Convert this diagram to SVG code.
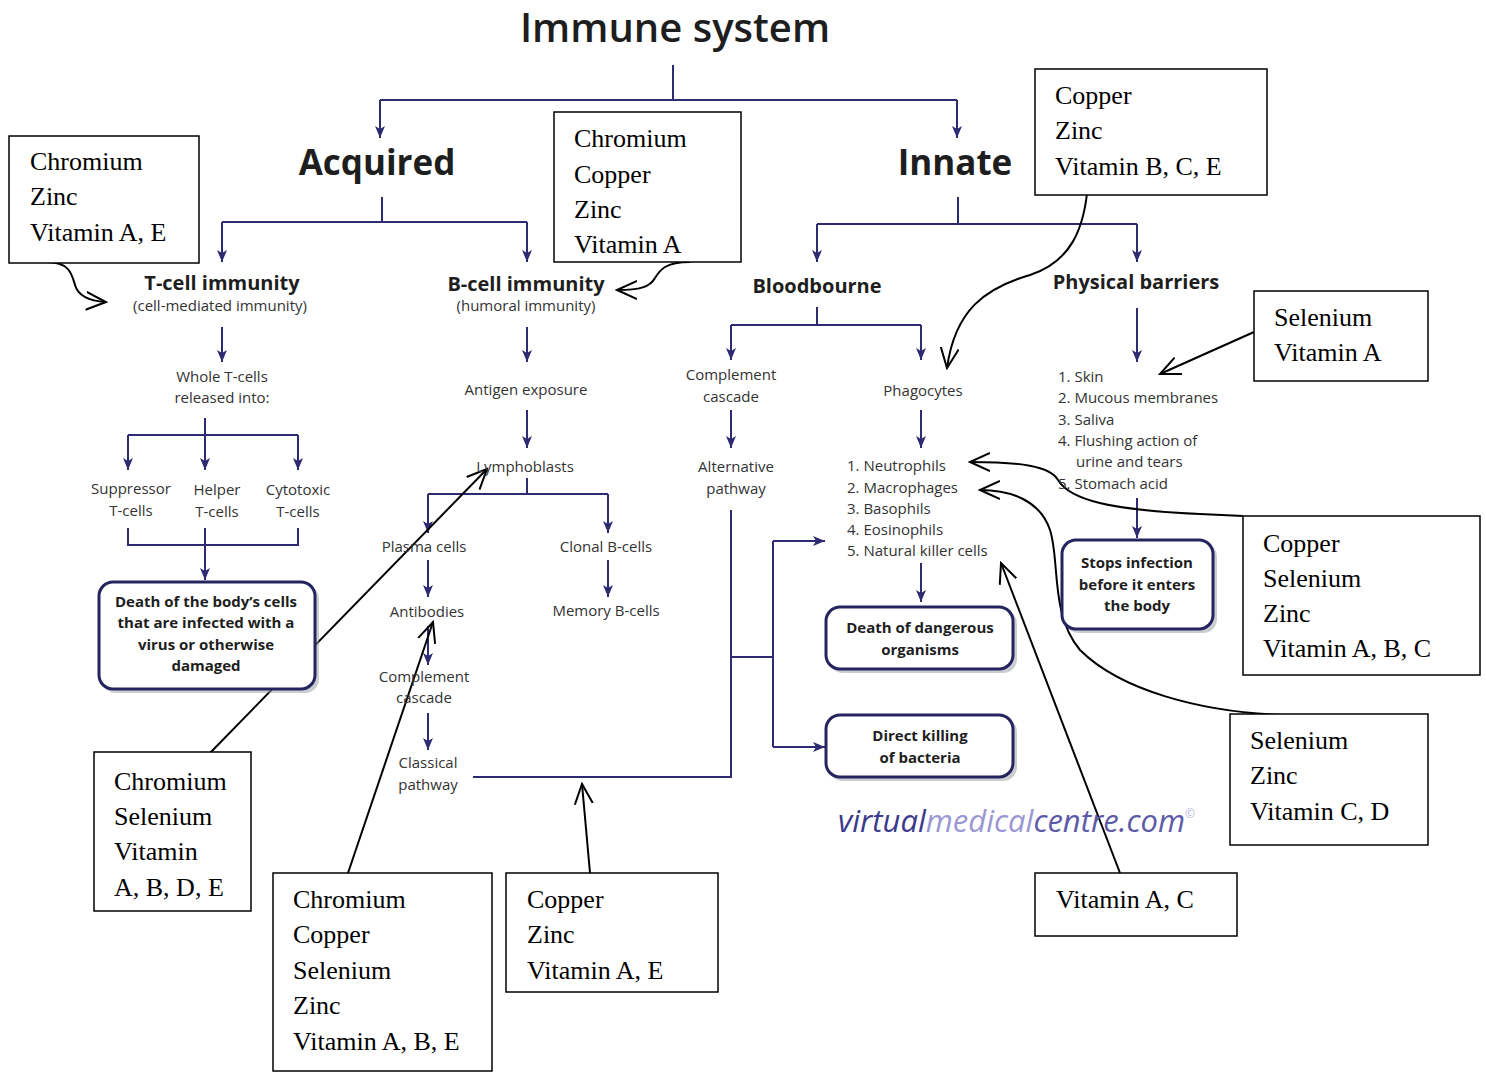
<svg xmlns="http://www.w3.org/2000/svg" width="1486" height="1078" viewBox="0 0 1486 1078">
<style>
.bg{fill:#ffffff}
.t{font-family:"Open Sans","Liberation Sans",sans-serif;fill:#2a2a2a;text-anchor:middle}
.title{font-size:40px;font-weight:600;fill:#1e1e1e}
.h1{font-size:35px;font-weight:700;fill:#1e1e1e}
.h2{font-size:20px;font-weight:700;fill:#1e1e1e}
.s{font-size:15px;fill:#333}
.l{font-size:15px;fill:#333;text-anchor:start}
.b{font-size:15px;font-weight:700;fill:#1e1e1e}
.tree{fill:none;stroke:#2e2b72;stroke-width:2}
.arr{marker-end:url(#tri)}
.rbox{fill:#ffffff;stroke:#26245e;stroke-width:3}
.shadow{fill:#9a9aa8;opacity:0.5}
.cb{fill:#ffffff;stroke:#000000;stroke-width:1.5}
.ct{font-family:"Liberation Serif","Times New Roman",serif;font-size:26px;fill:#000000}
.call{fill:none;stroke:#000000;stroke-width:2;marker-end:url(#open)}
.wm{font-family:"Open Sans","Liberation Sans",sans-serif;font-size:31px;font-style:italic}
</style>
<defs>
<marker id="tri" viewBox="0 0 12 10" refX="12" refY="5" markerWidth="12" markerHeight="10" markerUnits="userSpaceOnUse" orient="auto">
<path d="M0,0 L12,5 L0,10 L3,5 z" fill="#2e2b72"/>
</marker>
<marker id="open" viewBox="0 0 22 20" refX="20" refY="10" markerWidth="22" markerHeight="20" markerUnits="userSpaceOnUse" orient="auto">
<path d="M0,1 L20,10 L0,19" fill="none" stroke="#000" stroke-width="2"/>
</marker>
</defs>
<rect class="bg" x="0" y="0" width="1486" height="1078"/>

<g id="connectors">
<path class="tree" d="M673,65 V100"/>
<path class="tree" d="M380,100 H957"/>
<path class="tree arr" d="M380,100 V138"/>
<path class="tree arr" d="M957,100 V138"/>
<path class="tree" d="M382,197 V222 M222,222 H527"/>
<path class="tree arr" d="M222,222 V262"/>
<path class="tree arr" d="M527,222 V262"/>
<path class="tree" d="M958,197 V224 M817,224 H1137"/>
<path class="tree arr" d="M817,224 V262"/>
<path class="tree arr" d="M1137,224 V262"/>
<path class="tree arr" d="M222,327 V362"/>
<path class="tree" d="M205,418 V435 M128,435 H298"/>
<path class="tree arr" d="M128,435 V470"/>
<path class="tree arr" d="M205,435 V470"/>
<path class="tree arr" d="M298,435 V470"/>
<path class="tree" d="M128,528 V545 H298 V528"/>
<path class="tree arr" d="M205,528 V580"/>
<path class="tree arr" d="M527,327 V362"/>
<path class="tree arr" d="M527,410 V448"/>
<path class="tree" d="M527,478 V494 M428,494 H608"/>
<path class="tree arr" d="M428,494 V533"/>
<path class="tree arr" d="M608,494 V533"/>
<path class="tree arr" d="M428,560 V597"/>
<path class="tree arr" d="M608,560 V597"/>
<path class="tree arr" d="M428,626 V665"/>
<path class="tree arr" d="M428,713 V750"/>
<path class="tree" d="M473,777 H731 V510"/>
<path class="tree" d="M731,657 H773 V541 M773,657 V747"/>
<path class="tree arr" d="M773,541 H825"/>
<path class="tree arr" d="M773,747 H825"/>
<path class="tree" d="M817,307 V325 M731,325 H921"/>
<path class="tree arr" d="M731,325 V360"/>
<path class="tree arr" d="M921,325 V360"/>
<path class="tree arr" d="M731,410 V448"/>
<path class="tree arr" d="M921,410 V448"/>
<path class="tree arr" d="M921,563 V602"/>
<path class="tree arr" d="M1137,308 V362"/>
<path class="tree arr" d="M1137,498 V538"/>

<path class="call" d="M47,262 C70,262 72,275 75,285 C78,296 90,301 106,302"/>
<path class="call" d="M690,262 C665,262 660,270 655,278 C650,287 640,290 617,290"/>
<path class="call" d="M1088,182 C1085,230 1070,262 1030,275 C985,288 955,310 947,368"/>
<path class="call" d="M1254,332 L1160,374"/>
<path class="call" d="M1243,516 L1200,514 C1110,510 1070,500 1058,480 C1050,466 1020,462 970,462"/>
<path class="call" d="M1283,715 C1200,712 1120,690 1080,650 C1050,615 1060,560 1050,530 C1040,500 1010,490 980,490"/>
<path class="call" d="M1120,873 L1001,563"/>
<path class="call" d="M210,753 L487,469"/>
<path class="call" d="M348,873 L433,622"/>
<path class="call" d="M590,873 L582,784"/>
</g>

<g id="n-title"><text class="t title" x="675" y="42">Immune system</text></g>
<g id="n-acquired"><text class="t h1" x="377" y="175">Acquired</text></g>
<g id="n-innate"><text class="t h1" x="955" y="175">Innate</text></g>

<g id="n-tcell"><text class="t h2" x="222" y="290">T-cell immunity</text><text class="t s" x="220" y="311">(cell-mediated immunity)</text></g>
<g id="n-bcell"><text class="t h2" x="526" y="291">B-cell immunity</text><text class="t s" x="526" y="311">(humoral immunity)</text></g>
<g id="n-blood"><text class="t h2" x="817" y="293">Bloodbourne</text></g>
<g id="n-phys"><text class="t h2" x="1136" y="289">Physical barriers</text></g>

<g id="n-whole"><text class="t s" x="222" y="382">Whole T-cells</text><text class="t s" x="222" y="403">released into:</text></g>
<g id="n-supp"><text class="t s" x="131" y="494">Suppressor</text><text class="t s" x="131" y="516">T-cells</text></g>
<g id="n-helper"><text class="t s" x="217" y="495">Helper</text><text class="t s" x="217" y="517">T-cells</text></g>
<g id="n-cyto"><text class="t s" x="298" y="495">Cytotoxic</text><text class="t s" x="298" y="517">T-cells</text></g>
<g id="n-death1">
<rect class="shadow" x="102" y="585" width="217" height="108" rx="14"/>
<rect class="rbox" x="99" y="582" width="216" height="107" rx="14"/>
<text class="t b" x="206" y="607">Death of the body’s cells</text>
<text class="t b" x="206" y="628">that are infected with a</text>
<text class="t b" x="206" y="650">virus or otherwise</text>
<text class="t b" x="206" y="671">damaged</text>
</g>

<g id="n-antigen"><text class="t s" x="526" y="395">Antigen exposure</text></g>
<g id="n-lympho"><text class="t s" x="525" y="472">Lymphoblasts</text></g>
<g id="n-plasma"><text class="t s" x="424" y="552">Plasma cells</text></g>
<g id="n-clonal"><text class="t s" x="606" y="552">Clonal B-cells</text></g>
<g id="n-antibodies"><text class="t s" x="427" y="617">Antibodies</text></g>
<g id="n-memory"><text class="t s" x="606" y="616">Memory B-cells</text></g>
<g id="n-compl1"><text class="t s" x="424" y="682">Complement</text><text class="t s" x="424" y="703">cascade</text></g>
<g id="n-classical"><text class="t s" x="428" y="768">Classical</text><text class="t s" x="428" y="790">pathway</text></g>

<g id="n-compl2"><text class="t s" x="731" y="380">Complement</text><text class="t s" x="731" y="402">cascade</text></g>
<g id="n-alt"><text class="t s" x="736" y="472">Alternative</text><text class="t s" x="736" y="494">pathway</text></g>
<g id="n-phago"><text class="t s" x="923" y="396">Phagocytes</text></g>
<g id="n-list">
<text class="t l" x="847" y="471">1. Neutrophils</text>
<text class="t l" x="847" y="493">2. Macrophages</text>
<text class="t l" x="847" y="514">3. Basophils</text>
<text class="t l" x="847" y="535">4. Eosinophils</text>
<text class="t l" x="847" y="556">5. Natural killer cells</text>
</g>
<g id="n-death2">
<rect class="shadow" x="829" y="610" width="188" height="63" rx="14"/>
<rect class="rbox" x="826" y="607" width="187" height="62" rx="14"/>
<text class="t b" x="920" y="633">Death of dangerous</text>
<text class="t b" x="920" y="655">organisms</text>
</g>
<g id="n-direct">
<rect class="shadow" x="829" y="718" width="188" height="63" rx="14"/>
<rect class="rbox" x="826" y="715" width="187" height="62" rx="14"/>
<text class="t b" x="920" y="741">Direct killing</text>
<text class="t b" x="920" y="763">of bacteria</text>
</g>

<g id="n-barriers">
<text class="t l" x="1058" y="382">1. Skin</text>
<text class="t l" x="1058" y="403">2. Mucous membranes</text>
<text class="t l" x="1058" y="425">3. Saliva</text>
<text class="t l" x="1058" y="446">4. Flushing action of</text>
<text class="t l" x="1076" y="467">urine and tears</text>
<text class="t l" x="1058" y="489">5. Stomach acid</text>
</g>
<g id="n-stops">
<rect class="shadow" x="1065" y="543" width="152" height="90" rx="14"/>
<rect class="rbox" x="1062" y="540" width="151" height="89" rx="14"/>
<text class="t b" x="1137" y="568">Stops infection</text>
<text class="t b" x="1137" y="590">before it enters</text>
<text class="t b" x="1137" y="611">the body</text>
</g>

<g id="n-watermark">
<text class="wm" x="838" y="832"><tspan fill="#3b3a8c">virtual</tspan><tspan fill="#9b97d4">medical</tspan><tspan fill="#5d5aa8">centre.com</tspan><tspan fill="#b8b6dc" font-size="12" dy="-14">©</tspan></text>
</g>

<g id="c1"><rect class="cb" x="9" y="136" width="190" height="127"/>
<text class="ct" x="30" y="170">Chromium</text><text class="ct" x="30" y="205">Zinc</text><text class="ct" x="30" y="241">Vitamin A, E</text></g>
<g id="c2"><rect class="cb" x="554" y="112" width="187" height="150"/>
<text class="ct" x="574" y="147">Chromium</text><text class="ct" x="574" y="183">Copper</text><text class="ct" x="574" y="218">Zinc</text><text class="ct" x="574" y="253">Vitamin A</text></g>
<g id="c3"><rect class="cb" x="1035" y="69" width="232" height="126"/>
<text class="ct" x="1055" y="104">Copper</text><text class="ct" x="1055" y="139">Zinc</text><text class="ct" x="1055" y="175">Vitamin B, C, E</text></g>
<g id="c4"><rect class="cb" x="1254" y="291" width="174" height="90"/>
<text class="ct" x="1274" y="326">Selenium</text><text class="ct" x="1274" y="361">Vitamin A</text></g>
<g id="c5"><rect class="cb" x="1243" y="516" width="237" height="159"/>
<text class="ct" x="1263" y="552">Copper</text><text class="ct" x="1263" y="587">Selenium</text><text class="ct" x="1263" y="622">Zinc</text><text class="ct" x="1263" y="657">Vitamin A, B, C</text></g>
<g id="c6"><rect class="cb" x="1230" y="714" width="198" height="131"/>
<text class="ct" x="1250" y="749">Selenium</text><text class="ct" x="1250" y="784">Zinc</text><text class="ct" x="1250" y="820">Vitamin C, D</text></g>
<g id="c7"><rect class="cb" x="1035" y="873" width="202" height="63"/>
<text class="ct" x="1056" y="908">Vitamin A, C</text></g>
<g id="c8"><rect class="cb" x="506" y="873" width="212" height="119"/>
<text class="ct" x="527" y="908">Copper</text><text class="ct" x="527" y="943">Zinc</text><text class="ct" x="527" y="979">Vitamin A, E</text></g>
<g id="c9"><rect class="cb" x="273" y="873" width="219" height="198"/>
<text class="ct" x="293" y="908">Chromium</text><text class="ct" x="293" y="943">Copper</text><text class="ct" x="293" y="979">Selenium</text><text class="ct" x="293" y="1014">Zinc</text><text class="ct" x="293" y="1050">Vitamin A, B, E</text></g>
<g id="c10"><rect class="cb" x="94" y="752" width="157" height="159"/>
<text class="ct" x="114" y="790">Chromium</text><text class="ct" x="114" y="825">Selenium</text><text class="ct" x="114" y="860">Vitamin</text><text class="ct" x="114" y="896">A, B, D, E</text></g>
</svg>
